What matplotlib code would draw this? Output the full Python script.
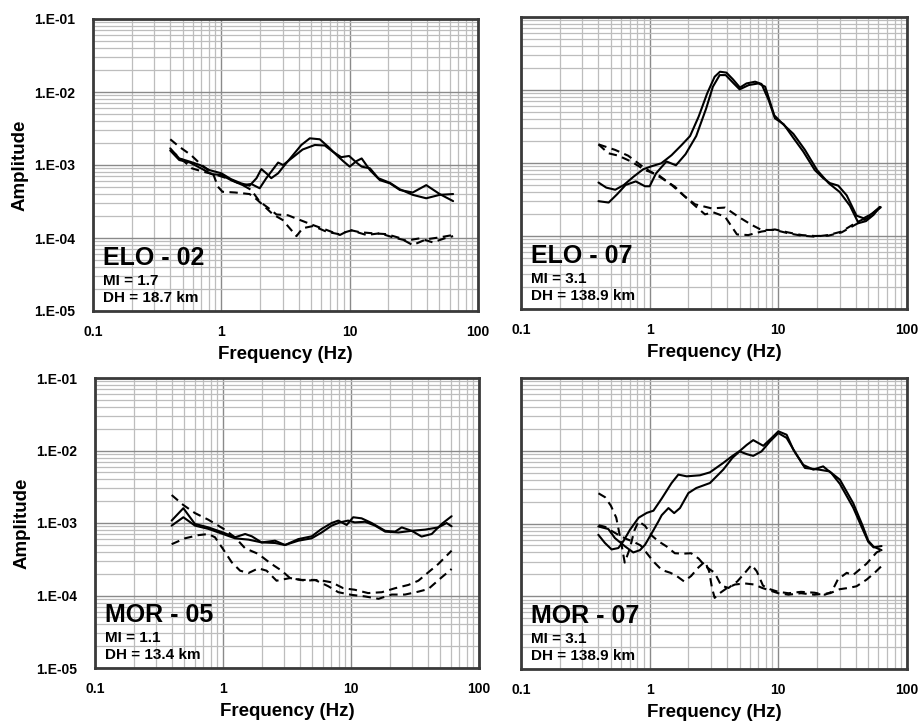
import numpy as np
import matplotlib
matplotlib.use('Agg')
import matplotlib.pyplot as plt
from matplotlib.ticker import FixedLocator, LogLocator, NullFormatter

plt.rcParams['font.family'] = ['Liberation Sans', 'DejaVu Sans']
plt.rcParams['font.weight'] = 'bold'

# ---- ELO - 02 ----
elo02_s1_f = [0.40, 0.47, 0.57, 0.68, 0.81, 1.0, 1.19, 1.43, 1.66, 1.88, 2.05, 2.24, 2.45, 2.77, 3.12, 3.62, 4.2,
              4.89, 5.85, 6.8, 7.9, 8.9, 10.0, 11.3, 12.4, 14.4, 17.2, 20.6, 24.6, 31.0, 39.5, 50.3, 64.0]
elo02_s1_a = [1.69e-3, 1.23e-3, 1.11e-3, 1.0e-3, 8.5e-4, 7.7e-4, 6.4e-4, 5.6e-4, 5.2e-4, 6.6e-4, 8.8e-4, 7.7e-4,
              6.6e-4, 7.7e-4, 1.0e-3, 1.37e-3, 1.88e-3, 2.32e-3, 2.25e-3, 1.78e-3, 1.37e-3, 1.13e-3, 9.5e-4,
              1.13e-3, 1.23e-3, 8.5e-4, 6.2e-4, 5.6e-4, 4.55e-4, 4.2e-4, 5.3e-4, 4.0e-4, 3.2e-4]
elo02_s2_f = [0.40, 0.47, 0.57, 0.72, 0.84, 1.0, 1.19, 1.47, 1.71, 1.99, 2.24, 2.77, 3.03, 3.62, 4.3, 5.35, 6.4,
              7.4, 8.6, 9.9, 11.3, 12.4, 14.4, 16.7, 20.6, 24.6, 31.0, 39.5, 50.3, 64.0]
elo02_s2_a = [1.58e-3, 1.17e-3, 1.08e-3, 8.7e-4, 7.5e-4, 7.3e-4, 6.2e-4, 5.3e-4, 5.5e-4, 4.8e-4, 6.6e-4, 1.08e-3,
              1.0e-3, 1.28e-3, 1.63e-3, 1.88e-3, 1.85e-3, 1.52e-3, 1.28e-3, 1.33e-3, 1.08e-3, 9.5e-4, 9.0e-4,
              6.6e-4, 5.7e-4, 4.65e-4, 3.9e-4, 3.5e-4, 3.9e-4, 4.0e-4]
elo02_d1_f = [0.40, 0.47, 0.58, 0.68, 0.79, 0.87, 0.94, 1.02, 1.28, 1.66, 1.88, 2.1, 2.53, 3.0, 3.5, 3.85, 4.3,
              5.2, 6.6, 8.2, 10.3, 13.5, 17.2, 21.8, 27.7, 35.2, 44.5, 55.0, 64.0]
elo02_d1_a = [2.25e-3, 1.78e-3, 1.37e-3, 1.05e-3, 8.5e-4, 7.3e-4, 5.05e-4, 4.3e-4, 4.2e-4, 4.0e-4, 3.4e-4, 2.85e-4,
              2.1e-4, 1.77e-4, 1.29e-4, 1.06e-4, 1.36e-4, 1.46e-4, 1.22e-4, 1.13e-4, 1.27e-4, 1.1e-4, 1.16e-4,
              1.02e-4, 9.2e-5, 9.9e-5, 8.7e-5, 9.9e-5, 1.06e-4]
elo02_d2_f = [0.40, 0.47, 0.59, 0.72, 0.92, 1.16, 1.47, 1.71, 1.99, 2.31, 2.69, 3.3, 4.08, 5.2, 6.6, 8.4, 10.0,
              12.0, 15.2, 19.3, 24.6, 31.0, 39.5, 50.3, 64.0]
elo02_d2_a = [1.6e-3, 1.28e-3, 9.0e-4, 8.1e-4, 7.3e-4, 6.4e-4, 5.3e-4, 4.55e-4, 3.15e-4, 2.6e-4, 2.1e-4, 2.05e-4,
              1.77e-4, 1.5e-4, 1.29e-4, 1.1e-4, 1.29e-4, 1.2e-4, 1.16e-4, 1.13e-4, 1.0e-4, 8.0e-5, 9.6e-5,
              1.02e-4, 1.1e-4]

# ---- ELO - 07 ----
elo07_s1_f = [0.40, 0.46, 0.54, 0.63, 0.75, 0.89, 1.03, 1.23, 1.48, 1.77, 2.06, 2.4, 2.8, 3.2, 3.52, 3.95, 4.44,
              5.03, 5.66, 6.6, 7.4, 8.4, 9.4, 11.0, 13.1, 15.6, 19.2, 22.3, 25.2, 29.2, 34.0, 40.5, 46.0, 53.0, 61.5]
elo07_s1_a = [5.4e-4, 4.6e-4, 4.3e-4, 5.0e-4, 6.5e-4, 8.2e-4, 9.0e-4, 9.9e-4, 1.28e-3, 1.76e-3, 2.34e-3, 4.3e-3,
              9.0e-3, 1.52e-2, 1.78e-2, 1.73e-2, 1.4e-2, 1.08e-2, 1.23e-2, 1.3e-2, 1.21e-2, 7.3e-3, 4.1e-3,
              3.4e-3, 2.2e-3, 1.44e-3, 8.0e-4, 6.2e-4, 5.3e-4, 4.9e-4, 3.6e-4, 1.9e-4, 1.75e-4, 2.0e-4, 2.5e-4]
elo07_s2_f = [0.40, 0.48, 0.56, 0.65, 0.78, 0.92, 1.0, 1.12, 1.35, 1.6, 1.9, 2.3, 2.75, 3.1, 3.5, 3.9, 4.5, 5.0,
              5.9, 7.0, 7.9, 9.3, 10.7, 13.1, 16.1, 20.0, 24.6, 30.0, 36.0, 42.0, 48.0, 55.0, 61.5]
elo07_s2_a = [3.0e-4, 2.87e-4, 3.75e-4, 5.0e-4, 5.6e-4, 4.8e-4, 4.8e-4, 7.2e-4, 1.05e-3, 9.3e-4, 1.32e-3, 2.34e-3,
              5.6e-3, 1.11e-2, 1.6e-2, 1.6e-2, 1.23e-2, 1.02e-2, 1.17e-2, 1.23e-2, 1.11e-2, 4.5e-3, 3.5e-3,
              2.5e-3, 1.51e-3, 8.0e-4, 5.3e-4, 4.0e-4, 2.6e-4, 1.5e-4, 1.6e-4, 1.95e-4, 2.5e-4]
elo07_d1_f = [0.40, 0.54, 0.68, 0.92, 1.24, 1.57, 1.88, 2.25, 2.69, 3.12, 3.85, 4.77, 5.84, 7.4, 9.4, 11.9, 15.2,
              19.2, 24.4, 31.0, 39.4, 50.0, 63.4]
elo07_d1_a = [1.8e-3, 1.51e-3, 1.26e-3, 8.45e-4, 6.2e-4, 4.74e-4, 3.46e-4, 2.6e-4, 1.98e-4, 2.11e-4, 1.84e-4,
              1.05e-4, 1.03e-4, 1.15e-4, 1.23e-4, 1.12e-4, 1.03e-4, 1.0e-4, 1.01e-4, 1.12e-4, 1.42e-4, 1.78e-4,
              2.52e-4]
elo07_d2_f = [0.40, 0.477, 0.571, 0.724, 0.92, 1.17, 1.48, 1.82, 2.25, 3.03, 3.85, 4.88, 6.2, 7.4, 9.4, 11.9,
              15.2, 19.2, 24.4, 31.0, 39.4, 50.0, 63.4]
elo07_d2_a = [1.8e-3, 1.36e-3, 1.26e-3, 1.04e-3, 8.0e-4, 6.85e-4, 5.0e-4, 3.64e-4, 2.72e-4, 2.39e-4, 2.45e-4,
              1.84e-4, 1.42e-4, 1.21e-4, 1.21e-4, 1.09e-4, 1.01e-4, 9.8e-5, 1.03e-4, 1.15e-4, 1.49e-4, 1.84e-4,
              2.52e-4]

# ---- MOR - 05 ----
mor05_s1_f = [0.397, 0.49, 0.604, 0.768, 1.0, 1.24, 1.49, 1.68, 2.0, 2.55, 3.05, 3.88, 4.93, 5.9, 7.06, 7.96,
              9.25, 10.4, 12.1, 14.5, 18.5, 22.1, 24.9, 29.8, 35.6, 42.7, 51.1, 61.1]
mor05_s1_a = [1.08e-3, 1.6e-3, 9.7e-4, 8.7e-4, 7.4e-4, 6.35e-4, 7.05e-4, 6.55e-4, 5.4e-4, 5.7e-4, 4.97e-4, 6.0e-4,
              6.55e-4, 8.3e-4, 1.0e-3, 1.08e-3, 9.4e-4, 1.2e-3, 1.16e-3, 1.0e-3, 7.8e-4, 7.6e-4, 8.7e-4, 7.8e-4,
              6.5e-4, 7.05e-4, 9.7e-4, 1.24e-3]
mor05_s2_f = [0.397, 0.49, 0.604, 0.768, 1.0, 1.24, 1.58, 2.0, 2.55, 3.05, 3.88, 4.93, 5.9, 7.06, 8.2, 9.5, 10.7,
              12.9, 15.4, 18.5, 23.5, 29.8, 37.9, 48.1, 55.8, 61.1]
mor05_s2_a = [9.2e-4, 1.2e-3, 9.2e-4, 8.3e-4, 7.05e-4, 6.15e-4, 5.9e-4, 5.4e-4, 5.3e-4, 4.97e-4, 5.7e-4, 6.15e-4,
              7.4e-4, 9.2e-4, 1.02e-3, 1.08e-3, 1.02e-3, 1.04e-3, 9.2e-4, 7.6e-4, 7.4e-4, 7.8e-4, 8.1e-4, 8.7e-4,
              1.0e-3, 9.0e-4]
mor05_d1_f = [0.397, 0.49, 0.604, 0.768, 1.0, 1.24, 1.49, 1.89, 2.33, 2.87, 3.34, 4.37, 5.56, 7.06, 8.71, 10.7,
              13.6, 17.4, 22.1, 28.1, 33.6, 40.2, 48.1, 61.1]
mor05_d1_a = [2.43e-3, 1.77e-3, 1.37e-3, 1.11e-3, 8.4e-4, 6.35e-4, 4.47e-4, 3.74e-4, 2.81e-4, 2.2e-4, 1.74e-4,
              1.6e-4, 1.64e-4, 1.52e-4, 1.26e-4, 1.2e-4, 1.08e-4, 1.11e-4, 1.26e-4, 1.4e-4, 1.6e-4, 2.09e-4,
              2.72e-4, 4.15e-4]
mor05_d2_f = [0.397, 0.505, 0.642, 0.768, 0.866, 1.0, 1.17, 1.36, 1.58, 1.89, 2.19, 2.62, 3.34, 4.12, 5.23, 6.65,
              7.96, 10.1, 12.9, 16.4, 20.8, 26.4, 33.6, 40.2, 51.1, 61.1]
mor05_d2_a = [5.1e-4, 6.15e-4, 6.8e-4, 7.05e-4, 6.35e-4, 4.38e-4, 2.87e-4, 2.2e-4, 2.04e-4, 2.37e-4, 2.2e-4,
              1.6e-4, 1.74e-4, 1.64e-4, 1.64e-4, 1.34e-4, 1.11e-4, 1.02e-4, 9.7e-5, 9.0e-5, 1.03e-4, 1.03e-4,
              1.13e-4, 1.23e-4, 1.78e-4, 2.32e-4]

# ---- MOR - 07 ----
mor07_s1_f = [0.399, 0.449, 0.506, 0.571, 0.624, 0.703, 0.82, 0.95, 1.07, 1.24, 1.48, 1.67, 1.94, 2.46, 2.94,
              3.73, 4.4, 5.0, 5.67, 6.38, 7.64, 8.87, 10.0, 11.6, 13.1, 15.6, 18.7, 22.3, 25.9, 30.1, 38.2, 45.0,
              50.0, 55.0, 63.4]
mor07_s1_a = [7.0e-4, 5.4e-4, 4.4e-4, 4.6e-4, 5.7e-4, 8.2e-4, 1.2e-3, 1.4e-3, 1.5e-3, 2.2e-3, 3.6e-3, 4.7e-3,
              4.45e-3, 4.6e-3, 5.05e-3, 6.8e-3, 8.5e-3, 9.9e-3, 1.2e-2, 1.4e-2, 1.17e-2, 1.5e-2, 1.85e-2, 1.66e-2,
              1.03e-2, 6.4e-3, 5.5e-3, 6.1e-3, 4.9e-3, 3.5e-3, 1.65e-3, 8.5e-4, 5.6e-4, 4.7e-4, 4.9e-4]
mor07_s2_f = [0.399, 0.477, 0.537, 0.643, 0.746, 0.84, 0.92, 1.04, 1.17, 1.24, 1.40, 1.55, 1.72, 2.0, 2.3, 2.94,
              3.73, 4.4, 5.0, 5.67, 6.38, 7.4, 8.6, 10.0, 11.6, 13.6, 16.1, 20.7, 25.0, 30.1, 38.2, 45.0, 50.0,
              55.0, 63.4]
mor07_s2_a = [9.1e-4, 8.4e-4, 6.3e-4, 4.85e-4, 4.0e-4, 4.3e-4, 5.1e-4, 7.4e-4, 1.07e-3, 1.3e-3, 1.63e-3, 1.39e-3,
              1.63e-3, 2.62e-3, 3.07e-3, 3.6e-3, 5.5e-3, 8.0e-3, 9.8e-3, 9.0e-3, 8.5e-3, 9.8e-3, 1.34e-2, 1.75e-2,
              1.5e-2, 9.3e-3, 5.8e-3, 5.5e-3, 5.2e-3, 4.0e-3, 1.9e-3, 9.5e-4, 5.8e-4, 4.8e-4, 4.3e-4]
mor07_d1_f = [0.40, 0.45, 0.50, 0.55, 0.60, 0.64, 0.70, 0.76, 0.82, 0.92, 1.04, 1.17, 1.35, 1.57, 1.82, 2.1, 2.4,
              2.7, 3.2, 3.6, 4.1, 4.8, 5.5, 6.2, 6.8, 7.6, 8.6, 10.0, 12.0, 15.0, 19.0, 23.0, 26.0, 29.0, 34.0,
              38.0, 48.5, 58.0, 63.4]
mor07_d1_a = [2.6e-3, 2.3e-3, 1.75e-3, 1.2e-3, 5.5e-4, 2.9e-4, 4.5e-4, 8.0e-4, 1.07e-3, 9.3e-4, 6.8e-4, 5.7e-4,
              4.85e-4, 3.9e-4, 3.85e-4, 3.9e-4, 3.3e-4, 2.6e-4, 2.1e-4, 1.4e-4, 1.3e-4, 1.6e-4, 2.1e-4, 2.7e-4,
              2.2e-4, 1.4e-4, 1.25e-4, 1.15e-4, 1.1e-4, 1.15e-4, 1.12e-4, 1.05e-4, 1.15e-4, 1.7e-4, 2.1e-4,
              1.95e-4, 2.8e-4, 4.0e-4, 4.3e-4]
mor07_d2_f = [0.40, 0.45, 0.50, 0.57, 0.65, 0.75, 0.85, 0.92, 1.07, 1.24, 1.45, 1.62, 1.85, 2.1, 2.4, 2.69, 2.9,
              3.05, 3.2, 3.5, 4.0, 4.6, 5.5, 6.5, 7.5, 8.6, 10.0, 12.0, 15.0, 19.0, 25.2, 30.0, 35.0, 40.5, 48.5,
              56.0, 63.4]
mor07_d2_a = [9.5e-4, 9.0e-4, 8.0e-4, 7.0e-4, 6.2e-4, 5.6e-4, 5.0e-4, 4.2e-4, 3.0e-4, 2.3e-4, 2.1e-4, 1.9e-4,
              1.6e-4, 1.9e-4, 2.5e-4, 3.0e-4, 2.2e-4, 1.3e-4, 9.5e-5, 1.1e-4, 1.3e-4, 1.45e-4, 1.5e-4, 1.45e-4,
              1.3e-4, 1.2e-4, 1.1e-4, 1.05e-4, 1.1e-4, 1.05e-4, 1.1e-4, 1.25e-4, 1.3e-4, 1.37e-4, 1.69e-4, 2.1e-4,
              2.6e-4]

stations = ['ELO - 02', 'ELO - 07', 'MOR - 05', 'MOR - 07']
magnitudes = ['MI = 1.7', 'MI = 3.1', 'MI = 1.1', 'MI = 3.1']
distances = ['DH = 18.7 km', 'DH = 138.9 km', 'DH = 13.4 km', 'DH = 138.9 km']

x_ticks = [0.1, 1, 10, 100]
x_labels = ['0.1', '1', '10', '100']
y_ticks = [1e-5, 1e-4, 1e-3, 1e-2, 1e-1]
y_labels = ['1.E-05', '1.E-04', '1.E-03', '1.E-02', '1.E-01']

curves = [
    [(elo02_s1_f, elo02_s1_a), (elo02_s2_f, elo02_s2_a), (elo02_d1_f, elo02_d1_a), (elo02_d2_f, elo02_d2_a)],
    [(elo07_s1_f, elo07_s1_a), (elo07_s2_f, elo07_s2_a), (elo07_d1_f, elo07_d1_a), (elo07_d2_f, elo07_d2_a)],
    [(mor05_s1_f, mor05_s1_a), (mor05_s2_f, mor05_s2_a), (mor05_d1_f, mor05_d1_a), (mor05_d2_f, mor05_d2_a)],
    [(mor07_s1_f, mor07_s1_a), (mor07_s2_f, mor07_s2_a), (mor07_d1_f, mor07_d1_a), (mor07_d2_f, mor07_d2_a)],
]

W, H = 921, 721
# axes boxes in pixels: left, top, right, bottom
boxes = [(93, 19, 478, 311), (521, 17, 907, 309), (95, 378, 479, 668), (521, 378, 907, 669)]

fig = plt.figure(figsize=(W / 100, H / 100), dpi=100)

for i, (l, t, r, b) in enumerate(boxes):
    ax = fig.add_axes([l / W, (H - b) / H, (r - l) / W, (b - t) / H])
    ax.set_xscale('log')
    ax.set_yscale('log')
    ax.set_xlim(0.1, 100)
    ax.set_ylim(1e-5, 1e-1)

    ax.xaxis.set_major_locator(FixedLocator(x_ticks))
    ax.yaxis.set_major_locator(FixedLocator(y_ticks))
    ax.xaxis.set_minor_locator(LogLocator(base=10, subs=np.arange(2, 10)))
    ax.yaxis.set_minor_locator(LogLocator(base=10, subs=np.arange(2, 10)))
    ax.xaxis.set_minor_formatter(NullFormatter())
    ax.yaxis.set_minor_formatter(NullFormatter())
    ax.set_xticklabels(x_labels)
    if i % 2 == 0:
        ax.set_yticklabels(y_labels)
        ax.set_ylabel('Amplitude', fontsize=13.5, fontweight='bold', labelpad=4)
    else:
        ax.set_yticklabels([])
    ax.tick_params(which='both', length=0)
    ax.tick_params(axis='x', which='major', labelsize=10, pad=10)
    ax.tick_params(axis='y', which='major', labelsize=10, pad=13)
    ax.set_xlabel('Frequency (Hz)', fontsize=13.5, fontweight='bold', labelpad=5)

    ax.grid(True, which='major', color='#8a8a8a', linewidth=1.0)
    ax.grid(True, which='minor', color='#bdbdbd', linewidth=0.9)
    ax.set_axisbelow(True)
    for sp in ax.spines.values():
        sp.set_color('#3a3a3a')
        sp.set_linewidth(2.0)

    for j, (f, a) in enumerate(curves[i]):
        if j < 2:
            ax.plot(f, a, color='black', linewidth=1.5, solid_capstyle='round', solid_joinstyle='round')
        else:
            ax.plot(f, a, color='black', linewidth=1.5, linestyle=(0, (4, 2.6)))

    ax.text(0.025, 0.158, stations[i], transform=ax.transAxes, fontsize=18, fontweight='bold',
            va='baseline', ha='left')
    ax.text(0.025, 0.089, magnitudes[i], transform=ax.transAxes, fontsize=11, fontweight='bold',
            va='baseline', ha='left')
    ax.text(0.025, 0.030, distances[i], transform=ax.transAxes, fontsize=11, fontweight='bold',
            va='baseline', ha='left')

fig.savefig('out.png', dpi=100)
